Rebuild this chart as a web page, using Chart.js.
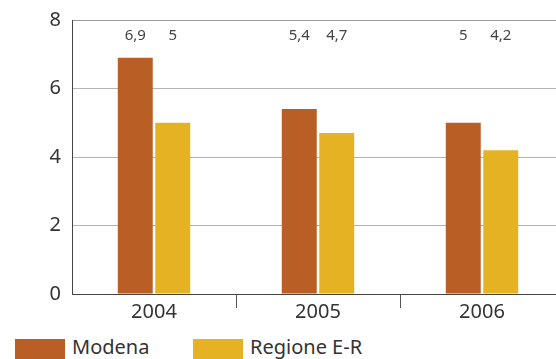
<!DOCTYPE html>
<html>
<head>
<meta charset="utf-8">
<script src="https://cdn.jsdelivr.net/npm/chart.js@4"></script>
<style>
  body { margin: 0; width: 556px; height: 359px; overflow: hidden; background: #fff; font-family: "Noto Sans", sans-serif; }
  #wrap { position: absolute; left: 0; top: 0; width: 570px; height: 330px; }
  #legenda { position: absolute; left: 0; top: 339px; }
  .voce { position: absolute; top: 0; white-space: nowrap; }
  .box { position: absolute; top: 0; width: 50px; height: 20px; }
  .txt { position: absolute; top: -6px; font-size: 20px; color: #333; }
</style>
</head>
<body>
<div id="wrap"><canvas id="grafico" width="570" height="330"></canvas></div>
<div id="legenda"></div>
<script>
// Dati
const anni = ["2004", "2005", "2006"];
const modena = [6.9, 5.4, 5];
const regione = [5, 4.7, 4.2];
const serie = ["Modena", "Regione E-R"];
const colori = ["#b95f26", "#e5b224"];
const tickY = [0, 2, 4, 6, 8];

// Etichette dei valori in alto, sopra ogni barra
const etichetteValori = {
    id: 'etichetteValori',
    afterDatasetsDraw(chart) {
        const ctx = chart.ctx;
        const y = chart.scales.y.getPixelForValue(7.55);
        ctx.save();
        ctx.font = '15px "Noto Sans"';
        ctx.fillStyle = '#444';
        ctx.textAlign = 'center';
        ctx.textBaseline = 'middle';
        chart.data.datasets.forEach((ds, i) => {
            chart.getDatasetMeta(i).data.forEach((bar, j) => {
                ctx.fillText(String(ds.data[j]).replace('.', ','), bar.x, y);
            });
        });
        ctx.restore();
    }
};

const ctx = document.getElementById('grafico');

const grafico = new Chart(ctx, {
    type: 'bar',
    data: {
        labels: anni,
        datasets: [
            { label: serie[0], data: modena, backgroundColor: colori[0] },
            { label: serie[1], data: regione, backgroundColor: colori[1] }
        ]
    },
    options: {
        responsive: false,
        animation: false,
        layout: { padding: { top: 20, right: 6, left: 0, bottom: 0 } },
        datasets: { bar: { categoryPercentage: 0.457, barPercentage: 0.933 } },
        plugins: {
            legend: { display: false },
            tooltip: { enabled: false }
        },
        scales: {
            x: {
                offset: true,
                grid: {
                    offset: true,
                    drawOnChartArea: false,
                    tickLength: 14,
                    color: (c) => c.index === 0 ? 'rgba(0,0,0,0)' : '#555'
                },
                border: { color: '#444', width: 1 },
                ticks: { font: { family: 'Noto Sans', size: 20 }, color: '#333', padding: -8 },
                afterFit(scale) { scale.height = 36; }
            },
            y: {
                min: 0,
                max: 8,
                afterBuildTicks(scale) { scale.ticks = tickY.map(v => ({ value: v })); },
                grid: {
                    drawTicks: false,
                    color: (c) => c.index === 0 ? 'rgba(0,0,0,0)' : (c.index === 4 ? '#999' : '#b5b5b5')
                },
                border: { color: '#444', width: 1 },
                ticks: { font: { family: 'Noto Sans', size: 20, lineHeight: 1 }, color: '#333', padding: 11 },
                afterFit(scale) {
                    scale.width = 72;
                    scale.paddingTop = 0;
                    scale.paddingBottom = 0;
                }
            }
        }
    },
    plugins: [etichetteValori]
});

// Legenda costruita a mano sotto il grafico
const legenda = document.getElementById('legenda');
const posizioni = [15, 193];
serie.forEach((nome, i) => {
    const voce = document.createElement('div');
    voce.className = 'voce';
    voce.style.left = posizioni[i] + 'px';
    voce.innerHTML = '<div class="box" style="left:0;background:' + colori[i] + '"></div>' +
        '<div class="txt" style="left:57px">' + nome + '</div>';
    legenda.appendChild(voce);
});
</script>
</body>
</html>
